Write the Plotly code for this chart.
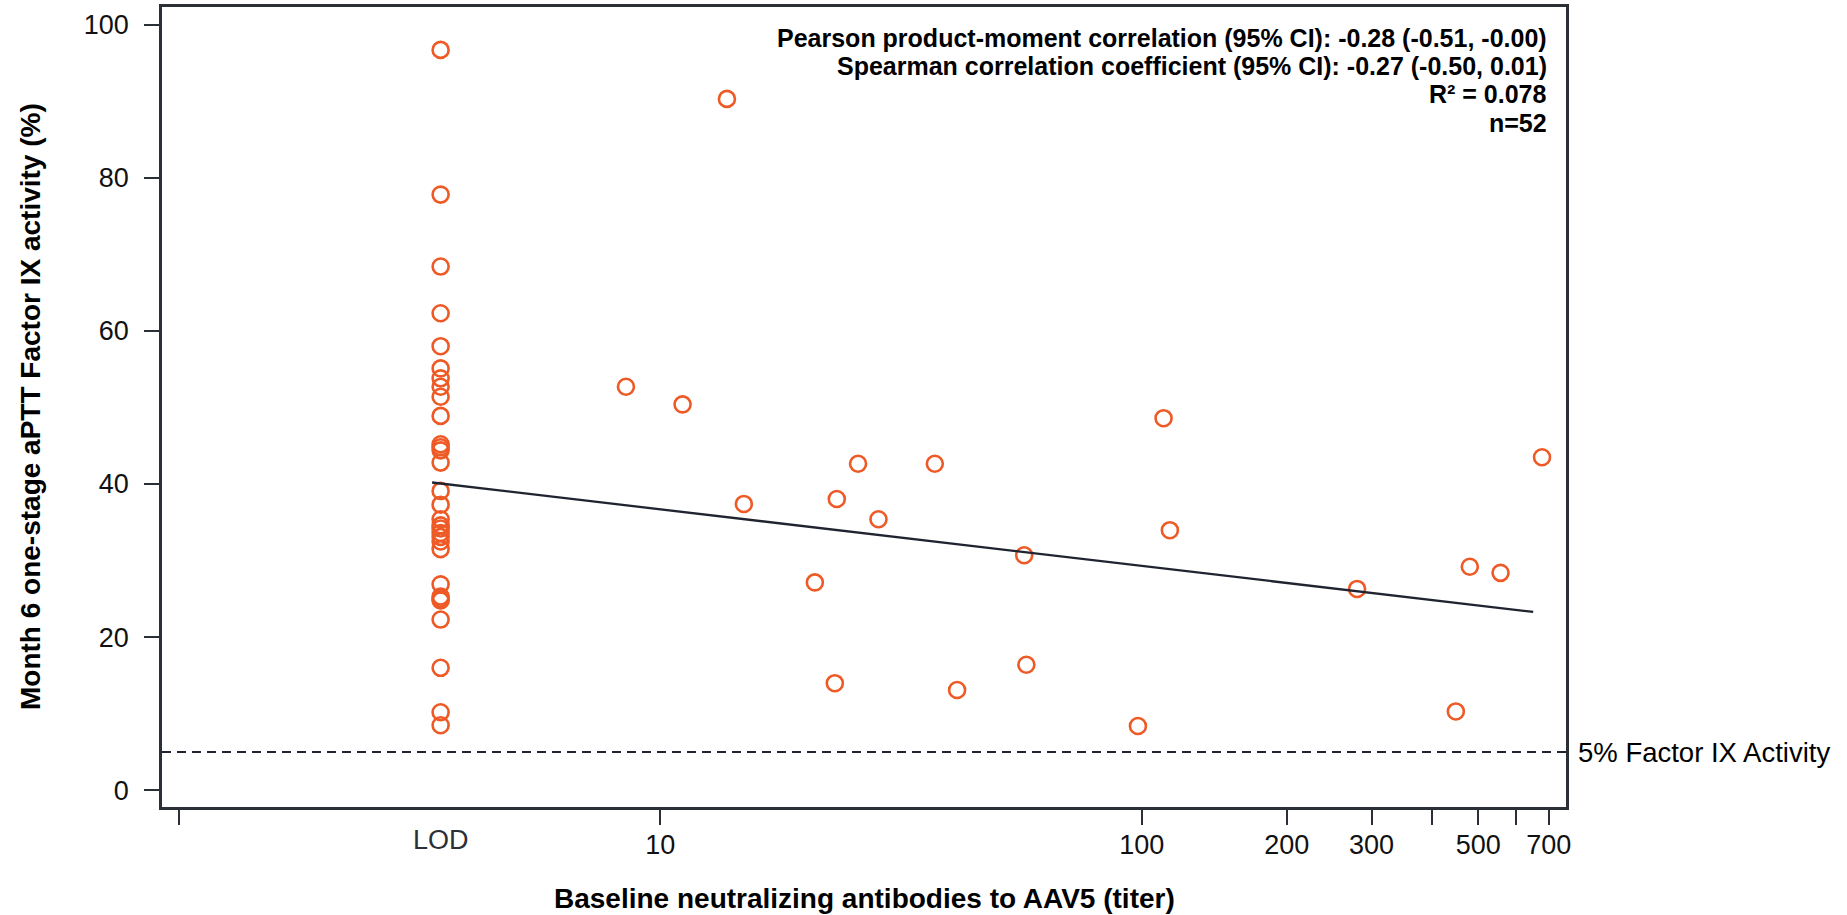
import numpy as np
import plotly.graph_objects as go

# ---------------- data ----------------
lod_titer = 3.5  # plotting position used for "LOD" (below limit of detection)
lod_fix = [96.7, 77.8, 68.4, 62.3, 58.0, 55.1, 53.8, 52.7, 51.4, 48.9,
           45.2, 44.8, 44.4, 42.8, 39.1, 37.3, 35.4, 34.6, 34.2, 33.6,
           33.1, 32.5, 31.5, 26.9, 25.3, 25.0, 24.8, 22.3, 16.0, 10.2, 8.5]
titer = [8.49, 11.13, 13.76, 14.92, 20.95, 23.05, 23.27, 25.76, 28.4, 37.18,
         41.36, 57.0, 57.6, 98.2, 111, 114.4, 280, 449, 480, 556, 678]
titer_fix = [52.7, 50.4, 90.3, 37.4, 27.15, 13.99, 38.04, 42.65, 35.4, 42.65,
             13.1, 30.7, 16.4, 8.4, 48.6, 33.97, 26.3, 10.3, 29.2, 28.4, 43.5]
fit_x = [3.36, 650]
fit_y = [40.2, 23.3]
threshold = 5
x_tickvals = [10, 100, 200, 300, 500, 700]
x_ticktext = ["10", "100", "200", "300", "500", "700"]
x_minor_ticks = [1, 400, 600]
y_tickvals = [0, 20, 40, 60, 80, 100]
stats_lines = [
    "Pearson product-moment correlation (95% CI): -0.28 (-0.51, -0.00)",
    "Spearman correlation coefficient (95% CI): -0.27 (-0.50, 0.01)",
    "R² = 0.078",
    "n=52",
]

# ---------------- figure ----------------
FONT = "Arial, 'Liberation Sans', sans-serif"
AX = "#2b2f36"
ORANGE = "#EE5A26"

x_all = [lod_titer] * len(lod_fix) + titer
y_all = lod_fix + titer_fix

fig = go.Figure()
fig.add_trace(go.Scatter(
    x=x_all, y=y_all, mode="markers",
    marker=dict(symbol="circle-open", size=16, color=ORANGE,
                line=dict(width=2.6, color=ORANGE)),
    showlegend=False, hoverinfo="x+y",
))
fig.add_trace(go.Scatter(
    x=fit_x, y=fit_y, mode="lines",
    line=dict(color="#1f2430", width=2.3), showlegend=False,
))
fig.add_hline(y=threshold, line=dict(color="#1f2430", width=1.8, dash="9px,6px"))

fig.update_layout(
    width=1847, height=915,
    margin=dict(l=162, r=281, t=7, b=108, autoexpand=False),
    paper_bgcolor="white", plot_bgcolor="white",
    font=dict(family=FONT, size=27, color="#111111"),
    showlegend=False,
)
fig.update_xaxes(
    type="log", range=[-0.0345, 2.881], automargin=False,
    tickmode="array", tickvals=x_tickvals, ticktext=x_ticktext,
    ticks="outside", ticklen=15, tickwidth=2, tickcolor=AX,
    minor=dict(tickvals=x_minor_ticks, ticks="outside", ticklen=15,
               tickwidth=2, tickcolor=AX, showgrid=False),
    showline=True, linecolor=AX, linewidth=2.5, mirror=True,
    showgrid=False, zeroline=False,
    tickfont=dict(family=FONT, size=27, color="#111111"),
    ticklabelstandoff=-3,
)
fig.update_yaxes(
    range=[-2.18, 102.3], automargin=False,
    tickmode="array", tickvals=y_tickvals,
    ticks="outside", ticklen=15, tickwidth=2, tickcolor=AX,
    showline=True, linecolor=AX, linewidth=2.5, mirror=True,
    showgrid=False, zeroline=False,
    tickfont=dict(family=FONT, size=27, color="#111111"),
    ticklabelstandoff=10,
)

# axis titles
fig.add_annotation(x=0.5, xref="paper", y=0, yref="paper", yshift=-91,
                   text="<b>Baseline neutralizing antibodies to AAV5 (titer)</b>",
                   showarrow=False, xanchor="center", yanchor="middle",
                   font=dict(family=FONT, size=28, color="#000000"))
fig.add_annotation(x=0, xref="paper", y=0.5, yref="paper", xshift=-132,
                   text="<b>Month 6 one-stage aPTT Factor IX activity (%)</b>",
                   textangle=-90, showarrow=False, xanchor="center", yanchor="middle",
                   font=dict(family=FONT, size=28, color="#000000"))

# LOD category label (no tick mark in the original)
fig.add_annotation(x=np.log10(lod_titer), xref="x", y=0, yref="paper",
                   text="LOD", showarrow=False, yanchor="middle", yshift=-33,
                   font=dict(family=FONT, size=27, color=AX))

# statistics block, top-right inside the plot
stat_shift = [-30.7, -59.0, -87.2, -115.5]
for txt, ys in zip(stats_lines, stat_shift):
    fig.add_annotation(x=1, xref="paper", y=1, yref="paper", yshift=ys,
                       text=f"<b>{txt}</b>",
                       showarrow=False, xanchor="right", yanchor="middle", xshift=-17,
                       font=dict(family=FONT, size=25, color="#000000"))

# threshold label outside right
fig.add_annotation(x=1, xref="paper", y=threshold, yref="y",
                   text="5% Factor IX Activity", showarrow=False,
                   xanchor="left", yanchor="middle", xshift=10,
                   font=dict(family=FONT, size=27.5, color="#000000"))

fig.write_html("out.html", config={"displayModeBar": False},
               post_script="document.body.style.margin='0';")
